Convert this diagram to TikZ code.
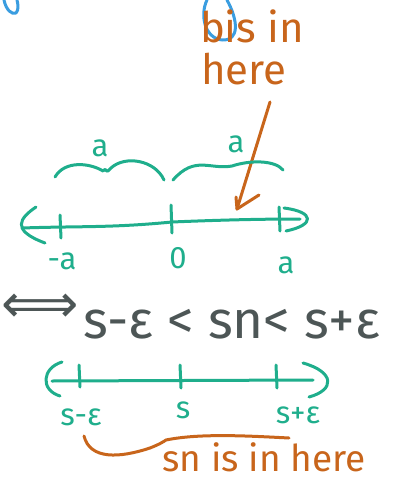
\documentclass[tikz,border=0pt]{standalone}
\usepackage{fontspec}
\setmainfont{Fira Sans}
\newfontfamily\symfont{DejaVu Sans}
\usetikzlibrary{positioning, arrows.meta}

\definecolor{inkteal}{HTML}{1FAE8C}
\definecolor{inkorange}{HTML}{C8651B}
\definecolor{inkblue}{HTML}{3A9DE0}
\definecolor{inkgray}{HTML}{4D5656}

\begin{document}
\begin{tikzpicture}[
    x=1pt, y=-1pt,
    >=stealth,
    stroke/.style={line width=3pt, line cap=round, line join=round},
    tealline/.style={stroke, draw=inkteal},
    orangeline/.style={stroke, draw=inkorange},
    blueline/.style={stroke, draw=inkblue},
    tealtext/.style={text=inkteal, inner sep=0pt, anchor=base, font=\fontsize{31}{33}\selectfont},
    notetext/.style={text=inkorange, inner sep=0pt, anchor=base, font=\fontsize{37}{40}\selectfont}
]
\useasboundingbox (0,0) rectangle (393,482);

% Blue loops left over from the previous sketch
\draw[blueline] (4,0) .. controls (6,10) and (12,15) .. (16,13) .. controls (19,10) and (18,4) .. (17,0);
\draw[blueline] (207,0) .. controls (200,14) and (204,38) .. (222,40) .. controls (240,41) and (238,20) .. (227,0);

% Note: b is in here
\node[notetext, font=\fontsize{42}{46}\selectfont] (bisin) at (252,42) {bis in};
\node[notetext, font=\fontsize{42}{46}\selectfont] (here1) at (244,84) {here};
\coordinate (arrowtip) at (237,209);
\draw[orangeline] (270,102) -- (arrowtip);
\draw[orangeline] (236,197) -- (arrowtip) -- (259,195);

% First number line: -a, 0, a
\coordinate (ma) at (60,226);
\coordinate (zero) at (172,222);
\coordinate (pa) at (280,220);
\draw[tealline] (22,228) .. controls (80,226) and (110,228) .. (zero) .. controls (220,220) and (260,219) .. (300,219);
\draw[tealline] (36,207) .. controls (20,218) and (10,230) .. (45,243);
\draw[tealline] (284,208) .. controls (315,212) and (315,225) .. (286,231);
\draw[tealline] (60,215) -- (61,238);
\draw[tealline] (171,205) -- (172,233);
\draw[tealline] (279,207) -- (280,231);
\node[tealtext] (lma) at (62,269) {-a};
\node[tealtext] (lzero) at (178,268) {0};
\node[tealtext] (lpa) at (286,273) {a};

% Braces of length a
\draw[tealline] (55,177) .. controls (65,160) and (90,163) .. (103,171) .. controls (108,166) and (104,176) .. (111,168) .. controls (125,155) and (155,160) .. (164,180);
\draw[tealline] (173,180) .. controls (195,155) and (210,170) .. (232,166) .. controls (250,160) and (275,160) .. (283,170);
\node[tealtext] (la1) at (100,156) {a};
\node[tealtext] (la2) at (236,152) {a};

% Equivalent inequality
\node[text=inkgray, inner sep=0pt, anchor=west, font=\symfont\fontsize{54}{58}\selectfont] (iff) at (1,308) {⟺};
\node[text=inkgray, inner sep=0pt, anchor=base west, font=\fontsize{53}{56}\selectfont] (ineq) at (83,338) {s-ε < sn< s+ε};

% Second number line: s-ε, s, s+ε
\coordinate (sme) at (80,380);
\coordinate (sval) at (180,380);
\coordinate (spe) at (278,380);
\draw[tealline] (52,381) -- (313,380);
\draw[tealline] (62,362) .. controls (42,368) and (40,390) .. (60,396);
\draw[tealline] (303,363) .. controls (335,372) and (335,390) .. (309,397);
\draw[tealline] (79,365) -- (80,387);
\draw[tealline] (180,365) -- (181,388);
\draw[tealline] (276,365) -- (277,388);
\node[tealtext] (lsme) at (81,425) {s-ε};
\node[tealtext] (lsval) at (183,418) {s};
\node[tealtext] (lspe) at (298,423) {s+ε};

% Brace under it: sn is in here
\draw[orangeline] (84,436) .. controls (90,460) and (120,458) .. (150,448) .. controls (160,444) and (163,442) .. (166,440) .. controls (200,433) and (250,436) .. (289,438);
\node[notetext] (snhere) at (264,471) {sn is in here};
\end{tikzpicture}
\end{document}
